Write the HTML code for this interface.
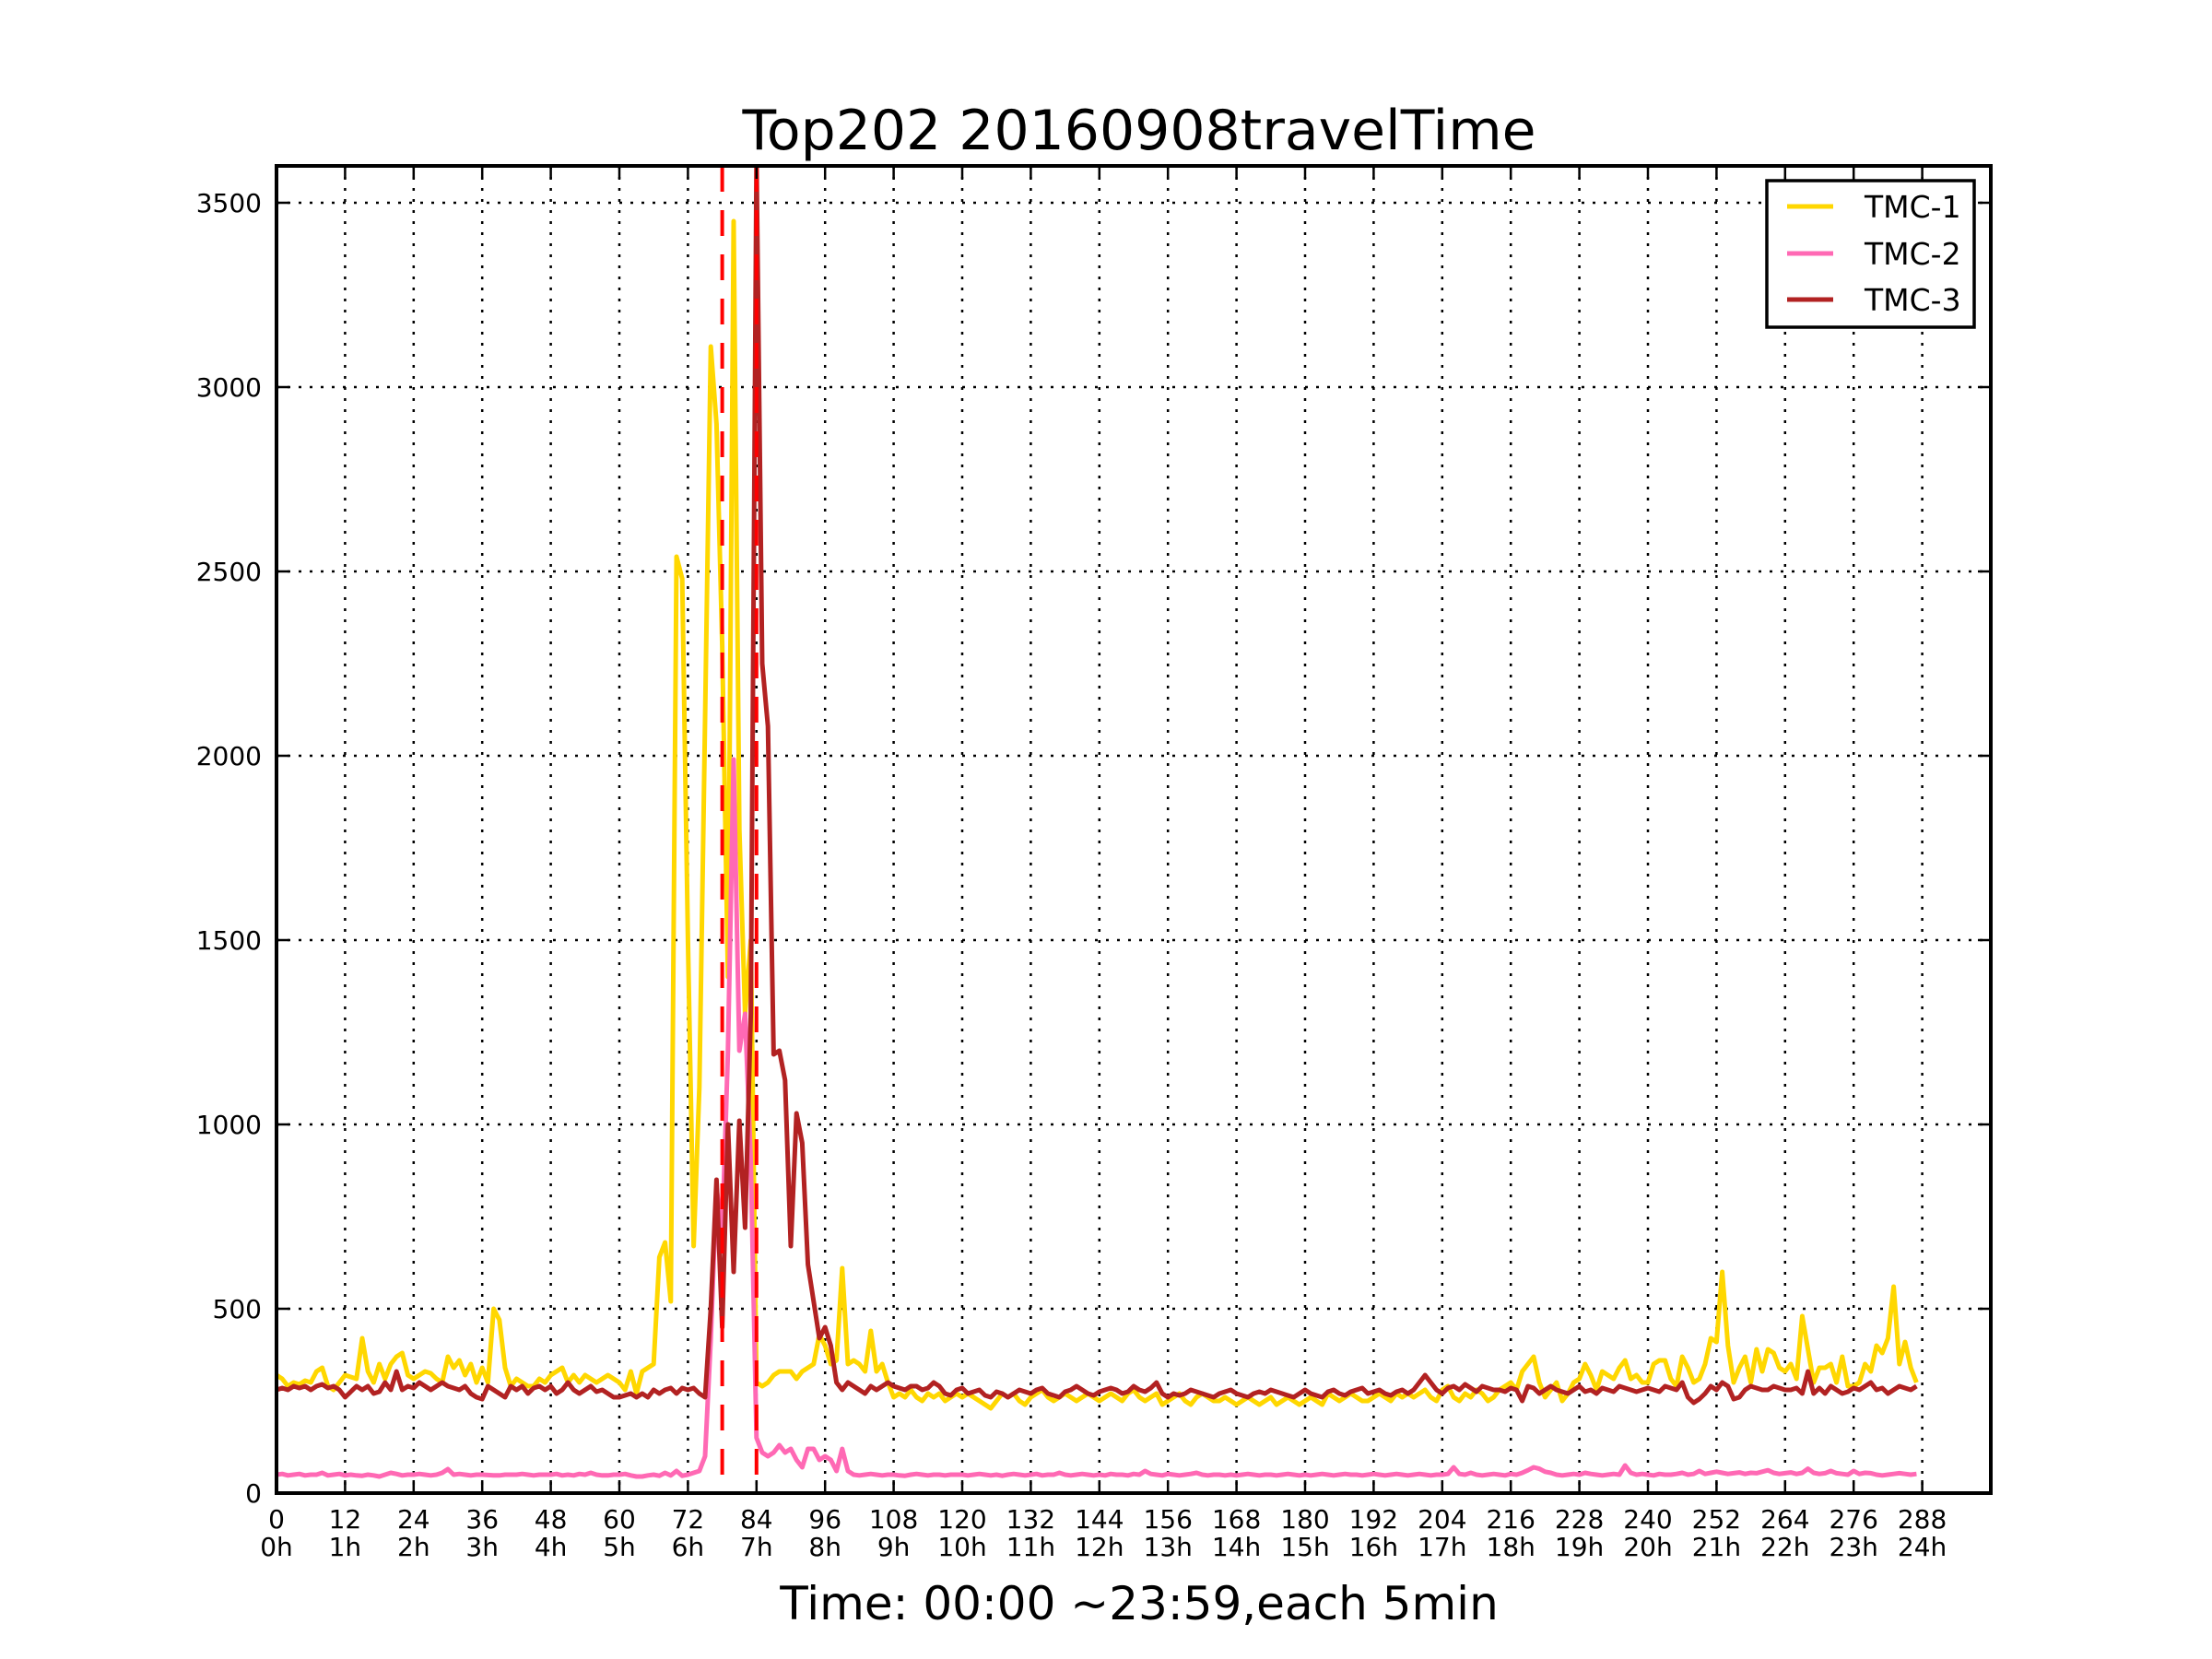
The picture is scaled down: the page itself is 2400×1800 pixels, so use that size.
<!DOCTYPE html>
<html><head><meta charset="utf-8"><style>
html,body{margin:0;padding:0;background:#fff;}
svg{display:block;font-family:"DejaVu Sans","Liberation Sans",sans-serif;}
</style></head><body>
<svg id="chart" width="2400" height="1800" viewBox="0 0 2400 1800" xmlns="http://www.w3.org/2000/svg">
<rect x="0" y="0" width="2400" height="1800" fill="#fff"/>
<defs><clipPath id="plotclip"><rect x="300" y="180" width="1860" height="1440"/></clipPath></defs>
<g id="grid"></g>
<g id="series" clip-path="url(#plotclip)"></g>
<g id="axes"></g>
<text x="1236" y="162" font-size="60" text-anchor="middle">Top202 20160908travelTime</text>
<text x="1236" y="1757" font-size="50" text-anchor="middle">Time: 00:00 ~23:59,each 5min</text>
<g>
<rect x="1917" y="196" width="225" height="159" fill="#fff" stroke="#000" stroke-width="3.5"/>
<g><line x1="1939" y1="224" x2="1989" y2="224" stroke="#FFD700" stroke-width="5"/><text x="2023" y="236" font-size="33">TMC-1</text></g>
<g><line x1="1939" y1="275" x2="1989" y2="275" stroke="#FF69B4" stroke-width="5"/><text x="2023" y="287" font-size="33">TMC-2</text></g>
<g><line x1="1939" y1="325" x2="1989" y2="325" stroke="#B22222" stroke-width="5"/><text x="2023" y="337" font-size="33">TMC-3</text></g>
</g>
</svg>
<script>
const xTicks = [0,12,24,36,48,60,72,84,96,108,120,132,144,156,168,180,192,204,216,228,240,252,264,276,288];
const xHourLabels = ["0h","1h","2h","3h","4h","5h","6h","7h","8h","9h","10h","11h","12h","13h","14h","15h","16h","17h","18h","19h","20h","21h","22h","23h","24h"];
const yTicks = [0,500,1000,1500,2000,2500,3000,3500];
const markerLines = [78,84];
const tmc1 = [
320,310,290,300,295,305,300,330,340,290,280,300,
320,315,310,420,330,300,350,310,350,370,380,320,
310,320,330,325,310,300,370,340,360,320,350,300,
340,300,500,470,340,290,310,300,290,290,310,300,
320,330,340,300,320,300,320,310,300,310,320,310,
300,280,330,270,330,340,350,640,680,520,2540,2480,
1500,670,1100,2100,3110,2900,2300,1400,3450,1800,1300,1500,
300,290,300,320,330,330,330,310,330,340,350,430,
400,350,360,610,350,360,350,330,440,330,350,300,
260,270,260,280,260,250,270,260,270,250,260,270,
260,270,260,250,240,230,250,270,260,270,250,240,
260,270,280,260,250,260,270,260,250,260,270,260,
250,260,270,260,250,270,280,260,250,260,270,240,
250,260,270,250,240,260,270,260,250,250,260,250,
240,250,260,250,240,250,260,240,250,260,250,240,
250,260,250,240,270,260,250,260,270,260,250,250,
260,270,260,250,270,260,270,260,270,280,260,250,
280,290,260,250,270,260,280,270,250,260,280,290,
300,280,330,350,370,300,260,280,300,250,270,300,
310,350,320,280,330,320,310,340,360,310,320,300,
300,350,360,360,310,290,370,340,300,310,350,420,
410,600,400,300,340,370,300,390,330,390,380,340,
330,350,310,480,390,300,340,340,350,300,370,290,
290,300,350,330,400,380,420,560,350,410,340,300];
const tmc2 = [
50,52,48,50,52,48,50,50,55,48,50,52,
48,50,48,47,50,48,45,50,55,52,48,50,
50,52,50,48,50,55,65,50,52,50,48,50,
50,49,48,48,50,50,50,52,50,48,50,50,
50,52,48,50,48,52,50,55,50,48,48,50,
50,52,48,45,45,48,50,47,55,48,60,47,
50,55,60,100,420,830,700,1200,1990,1200,1300,900,
150,110,100,110,130,110,120,90,70,120,120,90,
100,90,60,120,60,50,48,50,52,50,48,50,
50,48,47,50,52,50,48,50,50,48,50,50,
50,48,50,52,50,48,50,47,50,52,50,48,
50,52,48,50,50,55,50,48,50,52,50,48,
50,48,52,50,50,48,52,50,60,52,50,48,
52,50,48,50,52,55,50,48,50,50,48,50,
48,50,52,50,48,50,50,48,50,52,50,48,
50,48,50,52,50,48,50,52,50,50,48,50,
52,50,48,50,52,50,48,50,52,50,48,50,
50,52,70,52,50,55,50,48,50,52,50,48,
52,50,55,62,70,66,58,55,50,48,50,52,
50,55,52,50,48,50,52,50,75,55,50,52,
50,48,52,50,50,52,55,50,52,60,52,55,
58,55,52,54,56,52,55,54,58,62,55,52,
54,56,52,55,66,55,52,54,60,54,52,50,
60,52,55,54,50,48,50,52,54,52,50,52];
const tmc3 = [
280,285,280,290,285,290,280,290,295,285,290,280,
260,275,290,280,290,270,275,300,280,330,280,290,
285,300,290,280,290,300,290,285,280,290,270,260,
255,290,280,270,260,290,280,290,270,285,290,280,
290,270,280,300,280,270,280,290,275,280,270,260,
260,265,270,260,270,260,280,270,280,285,270,285,
280,285,270,260,500,850,450,1000,600,1010,720,1300,
3620,2250,2080,1190,1200,1120,670,1030,950,620,520,420,
450,400,300,280,300,290,280,270,290,280,290,300,
290,285,280,290,290,280,285,300,290,270,265,280,
285,270,275,280,265,260,275,270,260,270,280,275,
270,280,285,270,265,260,275,280,290,280,270,265,
275,280,285,280,270,275,290,280,275,285,300,270,
260,270,265,270,280,275,270,265,260,270,275,280,
270,265,260,270,275,270,280,275,270,265,260,270,
280,270,265,260,275,280,270,265,275,280,285,270,
275,280,270,265,275,280,270,280,300,320,300,280,
270,285,290,280,295,285,275,290,285,280,280,275,
285,280,250,290,285,270,280,290,280,275,270,280,
290,275,280,270,285,280,275,290,285,280,275,280,
285,280,275,290,285,280,300,260,245,255,270,290,
280,300,290,255,260,280,290,285,280,280,290,285,
280,280,285,270,330,270,285,270,290,280,270,275,
285,280,290,300,280,285,270,280,290,285,280,290];
const series = [{name:"tmc-1",data:tmc1,color:"#FFD700"},{name:"tmc-2",data:tmc2,color:"#FF69B4"},{name:"tmc-3",data:tmc3,color:"#B22222"}];
const NS = "http://www.w3.org/2000/svg";
const X0=300,X1=2160,Y0=1620,Y1=180,XMAX=300,YMAX=3600;
function xs(v){return X0+(v/XMAX)*(X1-X0);}
function ys(v){return Y0-(v/YMAX)*(Y0-Y1);}
function mk(tag,attrs,parent){const e=document.createElementNS(NS,tag);for(const k in attrs)e.setAttribute(k,attrs[k]);parent.appendChild(e);return e;}
const grid=document.getElementById('grid'),ser=document.getElementById('series'),axes=document.getElementById('axes');
xTicks.forEach((t,i)=>{
  const g=mk('line',{x1:xs(t),x2:xs(t),y1:Y1,y2:Y0,stroke:'#000','stroke-width':2.5,'stroke-dasharray':'3 9'},grid);
  
  
  const tb=mk('line',{x1:xs(t),x2:xs(t),y1:Y0,y2:Y0-14,stroke:'#000','stroke-width':2.5},axes);
  
  
  const tt=mk('line',{x1:xs(t),x2:xs(t),y1:Y1,y2:Y1+14,stroke:'#000','stroke-width':2.5},axes);
  
  
  const l=mk('text',{x:xs(t),y:1658,'font-size':28,'text-anchor':'middle'},axes);
  l.textContent=String(t);
  
  
  const h=mk('text',{x:xs(t),y:1688,'font-size':28,'text-anchor':'middle'},axes);
  h.textContent=xHourLabels[i];
  
  
});
yTicks.forEach(t=>{
  if(t>0){const g=mk('line',{x1:X0,x2:X1,y1:ys(t),y2:ys(t),stroke:'#000','stroke-width':2.5,'stroke-dasharray':'3 9'},grid);
  
  }
  const tl=mk('line',{x1:X0,x2:X0+14,y1:ys(t),y2:ys(t),stroke:'#000','stroke-width':2.5},axes);
  
  
  const tr=mk('line',{x1:X1-14,x2:X1,y1:ys(t),y2:ys(t),stroke:'#000','stroke-width':2.5},axes);
  
  
  const l=mk('text',{x:284,y:ys(t)+10,'font-size':28,'text-anchor':'end'},axes);
  l.textContent=String(t);
  
  
});
series.forEach(s=>{
  const pts=s.data.map((v,i)=>xs(i).toFixed(1)+','+ys(v).toFixed(1)).join(' ');
  const p=mk('polyline',{points:pts,fill:'none',stroke:s.color,'stroke-width':5,'stroke-linejoin':'round'},ser);
  
  
});
markerLines.forEach(m=>{
  const l=mk('line',{x1:xs(m),x2:xs(m),y1:Y1,y2:Y0,stroke:'#FF0000','stroke-width':4,'stroke-dasharray':'28 20'},ser);
  
  
});
const f=mk('rect',{x:X0,y:Y1,width:X1-X0,height:Y0-Y1,fill:'none',stroke:'#000','stroke-width':4},axes);


</script>
</body></html>
